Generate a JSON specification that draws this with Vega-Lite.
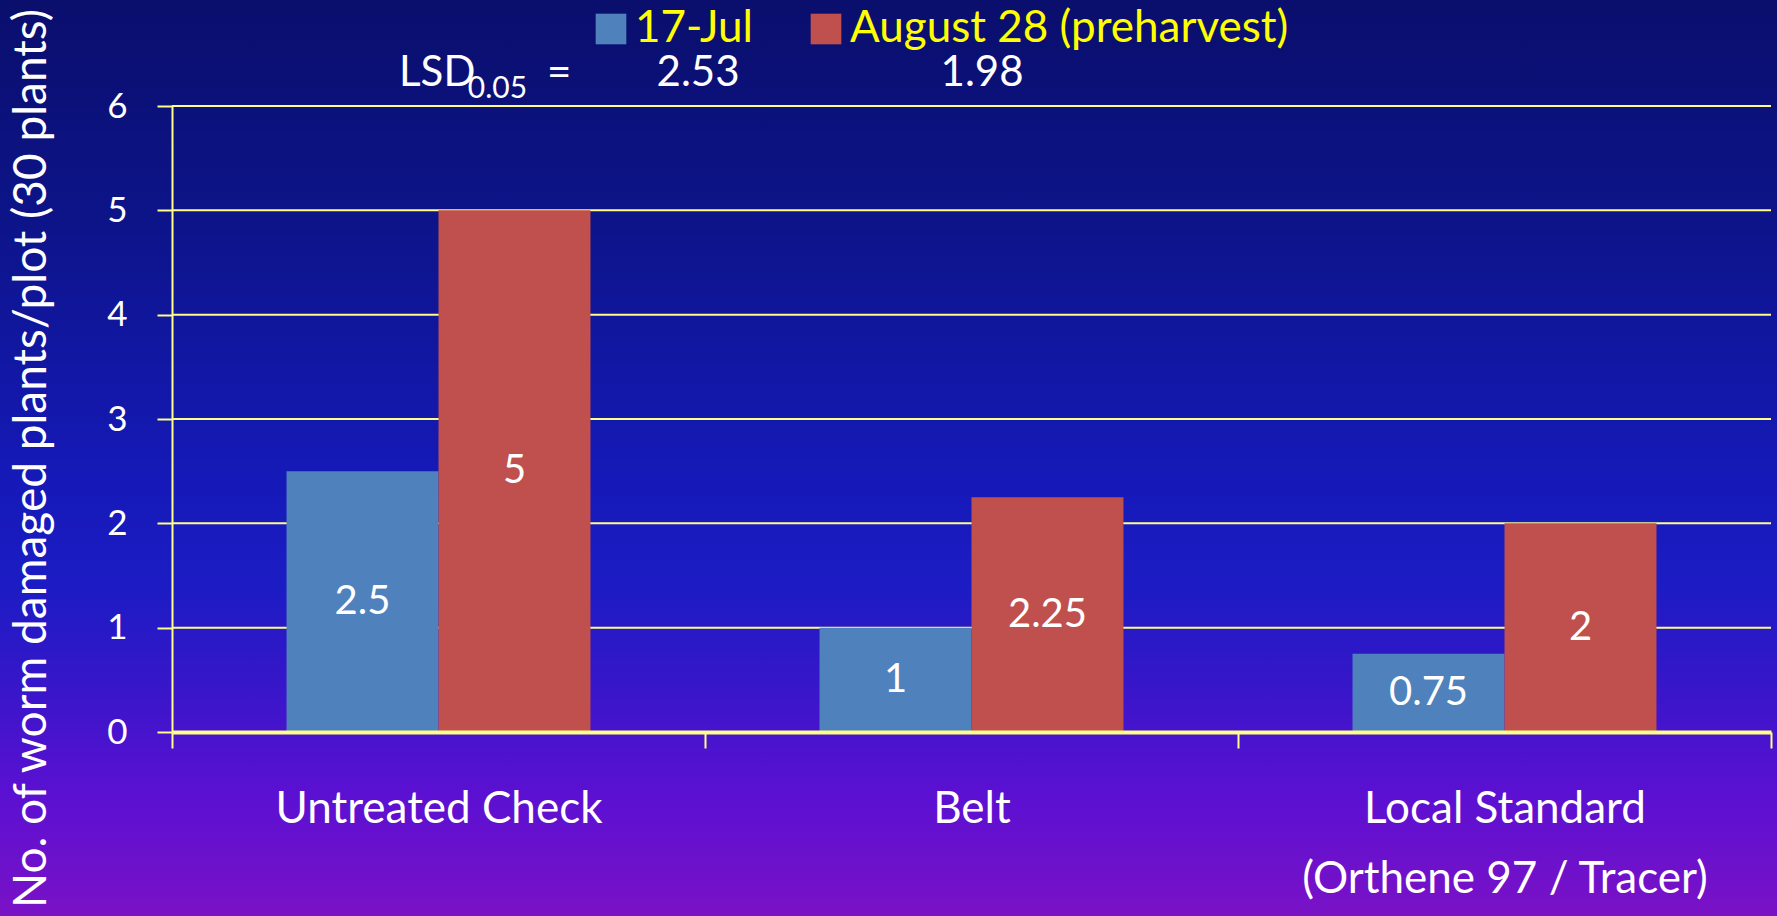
{
  "$schema": "https://vega.github.io/schema/vega-lite/v6.json",
  "width": 1599,
  "height": 626,
  "autosize": {"type": "none"},
  "padding": {"left": 172, "top": 106, "right": 6, "bottom": 184},
  "background": "#0A0E6C",
  "config": {"view": {"stroke": null}, "font": "Lato"},
  "data": {
    "values": [
      {"treatment": "Untreated Check", "date": "17-Jul", "value": 2.5},
      {"treatment": "Untreated Check", "date": "August 28 (preharvest)", "value": 5},
      {"treatment": "Belt", "date": "17-Jul", "value": 1},
      {"treatment": "Belt", "date": "August 28 (preharvest)", "value": 2.25},
      {"treatment": "Local Standard (Orthene 97 / Tracer)", "date": "17-Jul", "value": 0.75},
      {"treatment": "Local Standard (Orthene 97 / Tracer)", "date": "August 28 (preharvest)", "value": 2}
    ]
  },
  "layer": [
    {
      "data": {"values": [{}]},
      "mark": {
        "type": "rect",
        "fill": {
          "gradient": "linear", "x1": 0, "y1": 0, "x2": 0, "y2": 1,
          "stops": [
            {"offset": 0, "color": "#0A0E6C"},
            {"offset": 0.24, "color": "#0D1489"},
            {"offset": 0.51, "color": "#1519B6"},
            {"offset": 0.64, "color": "#1C1CC4"},
            {"offset": 0.73, "color": "#3217C8"},
            {"offset": 0.87, "color": "#5C10D2"},
            {"offset": 1, "color": "#7A12C6"}
          ]
        }
      },
      "encoding": {
        "x": {"datum": -0.1076, "type": "quantitative", "scale": {"domain": [0, 1], "nice": false, "zero": false}, "axis": null},
        "x2": {"datum": 1.0038},
        "y": {"datum": 7.016, "type": "quantitative", "scale": {"domain": [0, 6], "nice": false, "zero": false}, "axis": null},
        "y2": {"datum": -1.764}
      }
    },
    {
      "layer": [
        {"data": {"values": [{}]}, "mark": {"type": "rule", "color": "#FFFF88", "strokeWidth": 2}, "encoding": {"y": {"datum": 1, "type": "quantitative"}}},
        {"data": {"values": [{}]}, "mark": {"type": "rule", "color": "#FFFF88", "strokeWidth": 2}, "encoding": {"y": {"datum": 2, "type": "quantitative"}}},
        {"data": {"values": [{}]}, "mark": {"type": "rule", "color": "#FFFF88", "strokeWidth": 2}, "encoding": {"y": {"datum": 3, "type": "quantitative"}}},
        {"data": {"values": [{}]}, "mark": {"type": "rule", "color": "#FFFF88", "strokeWidth": 2}, "encoding": {"y": {"datum": 4, "type": "quantitative"}}},
        {"data": {"values": [{}]}, "mark": {"type": "rule", "color": "#FFFF88", "strokeWidth": 2}, "encoding": {"y": {"datum": 5, "type": "quantitative"}}},
        {"data": {"values": [{}]}, "mark": {"type": "rule", "color": "#FFFF88", "strokeWidth": 2}, "encoding": {"y": {"datum": 6, "type": "quantitative"}}},
        {
          "mark": {"type": "bar", "opacity": 1},
          "encoding": {
            "x": {
              "field": "treatment", "type": "nominal",
              "sort": ["Untreated Check", "Belt", "Local Standard (Orthene 97 / Tracer)"],
              "scale": {"paddingInner": 0, "paddingOuter": 0},
              "axis": {
                "title": null, "zindex": 1, "tickBand": "extent",
                "domainColor": "#FFFF88", "domainWidth": 4,
                "tickColor": "#FFFF88", "tickWidth": 2, "tickSize": 16,
                "labelColor": "white", "labelFont": "Lato", "labelFontSize": 44,
                "labelPadding": 39, "labelAngle": 0, "labelLineHeight": 70, "labelLimit": 1000,
                "labelExpr": "datum.value == 'Local Standard (Orthene 97 / Tracer)' ? ['Local Standard', '(Orthene 97 / Tracer)'] : datum.label"
              }
            },
            "xOffset": {
              "field": "date", "type": "nominal",
              "sort": ["17-Jul", "August 28 (preharvest)"],
              "scale": {"paddingInner": 0, "paddingOuter": 0.7535}
            },
            "y": {
              "field": "value", "type": "quantitative",
              "scale": {"domain": [0, 6], "nice": false},
              "axis": {
                "values": [0, 1, 2, 3, 4, 5, 6], "format": "d", "grid": false, "zindex": 1,
                "domainColor": "#FFFF88", "domainWidth": 2,
                "tickColor": "#FFFF88", "tickWidth": 2, "tickSize": 15,
                "labelColor": "white", "labelFont": "Lato", "labelFontSize": 35, "labelPadding": 30,
                "title": "No. of worm damaged plants/plot (30 plants)",
                "titleColor": "white", "titleFont": "Lato", "titleFontSize": 46, "titleFontWeight": "normal",
                "titleLimit": 2000, "titleX": -141, "titleY": 352, "titleBaseline": "middle", "titleAlign": "center"
              }
            },
            "color": {
              "field": "date", "type": "nominal",
              "scale": {"domain": ["17-Jul", "August 28 (preharvest)"], "range": ["#4F81BD", "#C0504D"]},
              "legend": {
                "title": null, "orient": "none", "legendX": 417, "legendY": -99,
                "direction": "horizontal", "columns": 2, "padding": 0,
                "symbolType": "square", "symbolSize": 940, "symbolStrokeWidth": 0, "symbolOpacity": 1,
                "labelColor": "#FFFF00", "labelFont": "Lato", "labelFontSize": 44, "labelLimit": 1000,
                "labelOffset": 2, "columnPadding": 51
              }
            }
          }
        }
      ]
    },
    {
      "mark": {"type": "text", "color": "white", "font": "Lato", "fontSize": 40, "baseline": "middle"},
      "encoding": {
        "x": {
          "field": "treatment", "type": "nominal",
          "sort": ["Untreated Check", "Belt", "Local Standard (Orthene 97 / Tracer)"],
          "scale": {"paddingInner": 0, "paddingOuter": 0}, "axis": null
        },
        "xOffset": {
          "field": "date", "type": "nominal",
          "sort": ["17-Jul", "August 28 (preharvest)"],
          "scale": {"paddingInner": 0, "paddingOuter": 0.7535}
        },
        "y": {"field": "value", "type": "quantitative", "scale": {"domain": [0, 12], "nice": false}, "axis": null},
        "text": {"field": "value", "type": "quantitative"}
      }
    },
    {
      "data": {"values": [{}]},
      "layer": [
        {
          "mark": {"type": "text", "text": "LSD", "align": "left", "baseline": "alphabetic", "color": "white", "font": "Lato", "fontSize": 42},
          "encoding": {
            "x": {"datum": 0.142, "type": "quantitative", "scale": {"domain": [0, 1], "nice": false}, "axis": null},
            "y": {"datum": 6.192, "type": "quantitative", "scale": {"domain": [0, 6], "nice": false}, "axis": null}
          }
        },
        {
          "mark": {"type": "text", "text": "0.05", "align": "left", "baseline": "alphabetic", "color": "white", "font": "Lato", "fontSize": 30},
          "encoding": {
            "x": {"datum": 0.185, "type": "quantitative"},
            "y": {"datum": 6.077, "type": "quantitative"}
          }
        },
        {
          "mark": {"type": "text", "text": "=", "align": "left", "baseline": "alphabetic", "color": "white", "font": "Lato", "fontSize": 42},
          "encoding": {
            "x": {"datum": 0.2345, "type": "quantitative"},
            "y": {"datum": 6.192, "type": "quantitative"}
          }
        },
        {
          "mark": {"type": "text", "text": "2.53", "align": "center", "baseline": "alphabetic", "color": "white", "font": "Lato", "fontSize": 42},
          "encoding": {
            "x": {"datum": 0.329, "type": "quantitative"},
            "y": {"datum": 6.192, "type": "quantitative"}
          }
        },
        {
          "mark": {"type": "text", "text": "1.98", "align": "center", "baseline": "alphabetic", "color": "white", "font": "Lato", "fontSize": 42},
          "encoding": {
            "x": {"datum": 0.5066, "type": "quantitative"},
            "y": {"datum": 6.192, "type": "quantitative"}
          }
        }
      ]
    }
  ],
  "resolve": {"scale": {"x": "independent", "y": "independent"}}
}
